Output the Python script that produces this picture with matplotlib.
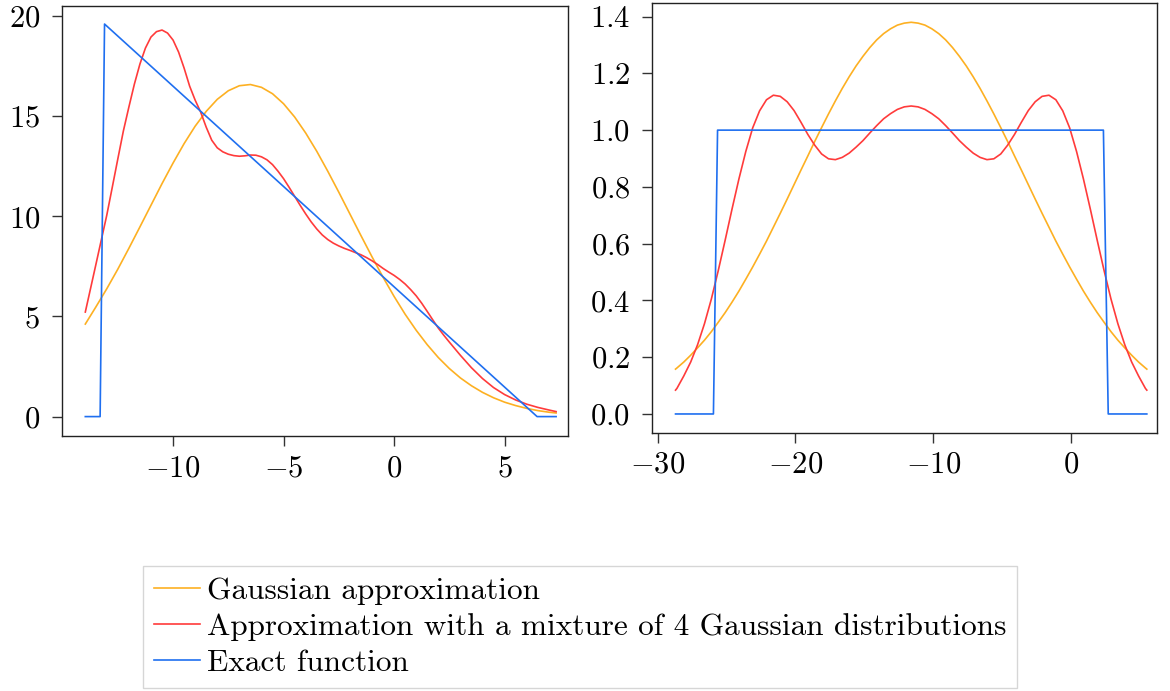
import numpy as np
import matplotlib
matplotlib.use("Agg")
import matplotlib.pyplot as plt

plt.rcParams['font.family'] = ['cmr10', 'DejaVu Sans']
plt.rcParams['mathtext.fontset'] = 'cm'
plt.rcParams['axes.formatter.use_mathtext'] = True
plt.rcParams['font.size'] = 22

# colours of the three curves
c_gauss = '#FDB022'
c_mix = '#FF3B3B'
c_exact = '#1F6FF0'

labels = ["Gaussian approximation",
          "Approximation with a mixture of 4 Gaussian distributions",
          "Exact function"]

# ---- left panel
left_x = [-13.97, -13.5, -13.0, -12.5, -12.0, -11.5, -11.0, -10.5, -10.0, -9.5,
          -9.0, -8.5, -8.0, -7.5, -7.0, -6.5, -6.0, -5.5, -5.0, -4.5,
          -4.0, -3.5, -3.0, -2.5, -2.0, -1.5, -1.0, -0.5, 0.0, 0.5,
          1.0, 1.5, 2.0, 2.5, 3.0, 3.5, 4.0, 4.5, 5.0, 5.5,
          6.0, 6.5, 7.0, 7.33]
left_gauss = [4.62, 5.46, 6.38, 7.36, 8.40, 9.47, 10.55, 11.63, 12.66, 13.63,
              14.50, 15.24, 15.84, 16.27, 16.52, 16.58, 16.44, 16.12, 15.62, 14.96,
              14.16, 13.25, 12.25, 11.20, 10.12, 9.04, 7.98, 6.96, 6.00, 5.11,
              4.31, 3.59, 2.95, 2.40, 1.93, 1.54, 1.21, 0.94, 0.72, 0.55,
              0.41, 0.30, 0.22, 0.18]
mix_x = [-13.97, -13.5, -13.0, -12.75, -12.5, -12.25, -12.0, -11.75, -11.5, -11.25,
         -11.0, -10.75, -10.5, -10.25, -10.0, -9.75, -9.5, -9.25, -9.0, -8.75,
         -8.5, -8.25, -8.0, -7.75, -7.5, -7.25, -7.0, -6.75, -6.5, -6.25,
         -6.0, -5.75, -5.5, -5.25, -5.0, -4.75, -4.5, -4.25, -4.0, -3.75,
         -3.5, -3.25, -3.0, -2.75, -2.5, -2.25, -2.0, -1.75, -1.5, -1.25,
         -1.0, -0.75, -0.5, -0.25, 0.0, 0.25, 0.5, 0.75, 1.0, 1.25,
         1.5, 1.75, 2.0, 2.25, 2.5, 3.0, 3.5, 4.0, 4.5, 5.0,
         5.5, 6.0, 6.5, 7.0, 7.33]
left_mix = [5.22, 7.55, 10.05, 11.45, 12.86, 14.25, 15.45, 16.6, 17.6, 18.4,
            18.95, 19.22, 19.3, 19.15, 18.8, 18.2, 17.4, 16.5, 15.8, 15.2,
            14.45, 13.8, 13.42, 13.22, 13.1, 13.03, 13.0, 13.02, 13.06, 13.05,
            12.97, 12.82, 12.58, 12.25, 11.88, 11.45, 11.0, 10.55, 10.12, 9.72,
            9.37, 9.07, 8.84, 8.66, 8.52, 8.4, 8.3, 8.19, 8.08, 7.94,
            7.78, 7.6, 7.4, 7.22, 7.05, 6.85, 6.62, 6.34, 6.03, 5.66,
            5.25, 4.83, 4.42, 4.06, 3.72, 3.06, 2.44, 1.9, 1.45, 1.1,
            0.83, 0.62, 0.46, 0.33, 0.25]
left_exact_x = [-13.97, -13.3, -13.1, 6.47, 7.33]
left_exact_y = [0.0, 0.0, 19.6, 0.0, 0.0]

# ---- right panel
right_x = [-28.7, -28.6, -28.1, -27.6, -27.1, -26.6, -26.1, -25.6, -25.1, -24.6,
           -24.1, -23.6, -23.1, -22.6, -22.1, -21.6, -21.1, -20.6, -20.1, -19.6,
           -19.1, -18.6, -18.1, -17.6, -17.1, -16.6, -16.1, -15.6, -15.1, -14.6,
           -14.1, -13.6, -13.1, -12.6, -12.1, -11.6, -11.1, -10.6, -10.1, -9.6,
           -9.1, -8.6, -8.1, -7.6, -7.1, -6.6, -6.1, -5.6, -5.1, -4.6,
           -4.1, -3.6, -3.1, -2.6, -2.1, -1.6, -1.1, -0.6, -0.1, 0.4,
           0.9, 1.4, 1.9, 2.4, 2.9, 3.4, 3.9, 4.4, 4.9, 5.4, 5.5]
right_gauss = [0.158, 0.162, 0.183, 0.207, 0.233, 0.260, 0.290, 0.323, 0.357, 0.394,
               0.433, 0.475, 0.518, 0.563, 0.609, 0.658, 0.707, 0.757, 0.808, 0.859,
               0.909, 0.960, 1.009, 1.057, 1.103, 1.147, 1.188, 1.226, 1.260, 1.291,
               1.318, 1.340, 1.357, 1.370, 1.377, 1.380, 1.377, 1.370, 1.357, 1.340,
               1.318, 1.291, 1.260, 1.226, 1.188, 1.147, 1.103, 1.057, 1.009, 0.960,
               0.909, 0.859, 0.808, 0.757, 0.707, 0.658, 0.609, 0.563, 0.518, 0.475,
               0.433, 0.394, 0.357, 0.323, 0.290, 0.260, 0.233, 0.207, 0.183, 0.162, 0.158]
right_mix = [0.084, 0.090, 0.134, 0.183, 0.244, 0.318, 0.405, 0.505, 0.612, 0.722,
             0.828, 0.925, 1.008, 1.068, 1.107, 1.123, 1.119, 1.100, 1.069, 1.028,
             0.985, 0.947, 0.916, 0.899, 0.896, 0.904, 0.919, 0.940, 0.963, 0.990,
             1.016, 1.040, 1.058, 1.073, 1.082, 1.085, 1.082, 1.073, 1.058, 1.040,
             1.016, 0.990, 0.963, 0.940, 0.919, 0.904, 0.896, 0.899, 0.916, 0.947,
             0.985, 1.028, 1.069, 1.100, 1.119, 1.123, 1.107, 1.068, 1.008, 0.925,
             0.828, 0.722, 0.612, 0.505, 0.405, 0.318, 0.244, 0.183, 0.134, 0.090, 0.084]
right_exact_x = [-28.7, -25.95, -25.65, 2.35, 2.7, 5.5]
right_exact_y = [0.0, 0.0, 1.0, 1.0, 0.0, 0.0]

fig = plt.figure(figsize=(11.7, 6.91), dpi=100)
ax1 = fig.add_axes([0.0527, 0.369, 0.4328, 0.6223])
ax2 = fig.add_axes([0.557, 0.3738, 0.4319, 0.6219])

lw = 1.2
ax1.plot(left_x, left_gauss, color=c_gauss, lw=lw, label=labels[0])
ax1.plot(mix_x, left_mix, color=c_mix, lw=lw, label=labels[1])
ax1.plot(left_exact_x, left_exact_y, color=c_exact, lw=lw, label=labels[2])

ax2.plot(right_x, right_gauss, color=c_gauss, lw=lw)
ax2.plot(right_x, right_mix, color=c_mix, lw=lw)
ax2.plot(right_exact_x, right_exact_y, color=c_exact, lw=lw)

ax1.set_xlim(-15.04, 7.87)
ax1.set_ylim(-0.97, 20.5)
ax1.set_xticks([-10, -5, 0, 5])
ax1.set_yticks([0, 5, 10, 15, 20])

ax2.set_xlim(-30.43, 6.24)
ax2.set_ylim(-0.066, 1.448)
ax2.set_xticks([-30, -20, -10, 0])
ax2.set_yticks([0.0, 0.2, 0.4, 0.6, 0.8, 1.0, 1.2, 1.4])
ax2.yaxis.set_major_formatter(matplotlib.ticker.FormatStrFormatter(r'$\mathdefault{%.1f}$'))

for ax in (ax1, ax2):
    for sp in ax.spines.values():
        sp.set_color('#222222')
        sp.set_linewidth(1.0)
    ax.tick_params(direction='out', length=7.5, width=1.0, color='#333333')
    ax.tick_params(axis='x', pad=6)
    ax.tick_params(axis='y', pad=8)

fig.legend(loc='center', bbox_to_anchor=(0.496, 0.0926), frameon=True, fancybox=False,
           edgecolor='#cccccc', fontsize=22.5, handlelength=1.47, handletextpad=0.22,
           borderpad=0.35, labelspacing=0.25, borderaxespad=0)

fig.savefig('out.png', dpi=100)
